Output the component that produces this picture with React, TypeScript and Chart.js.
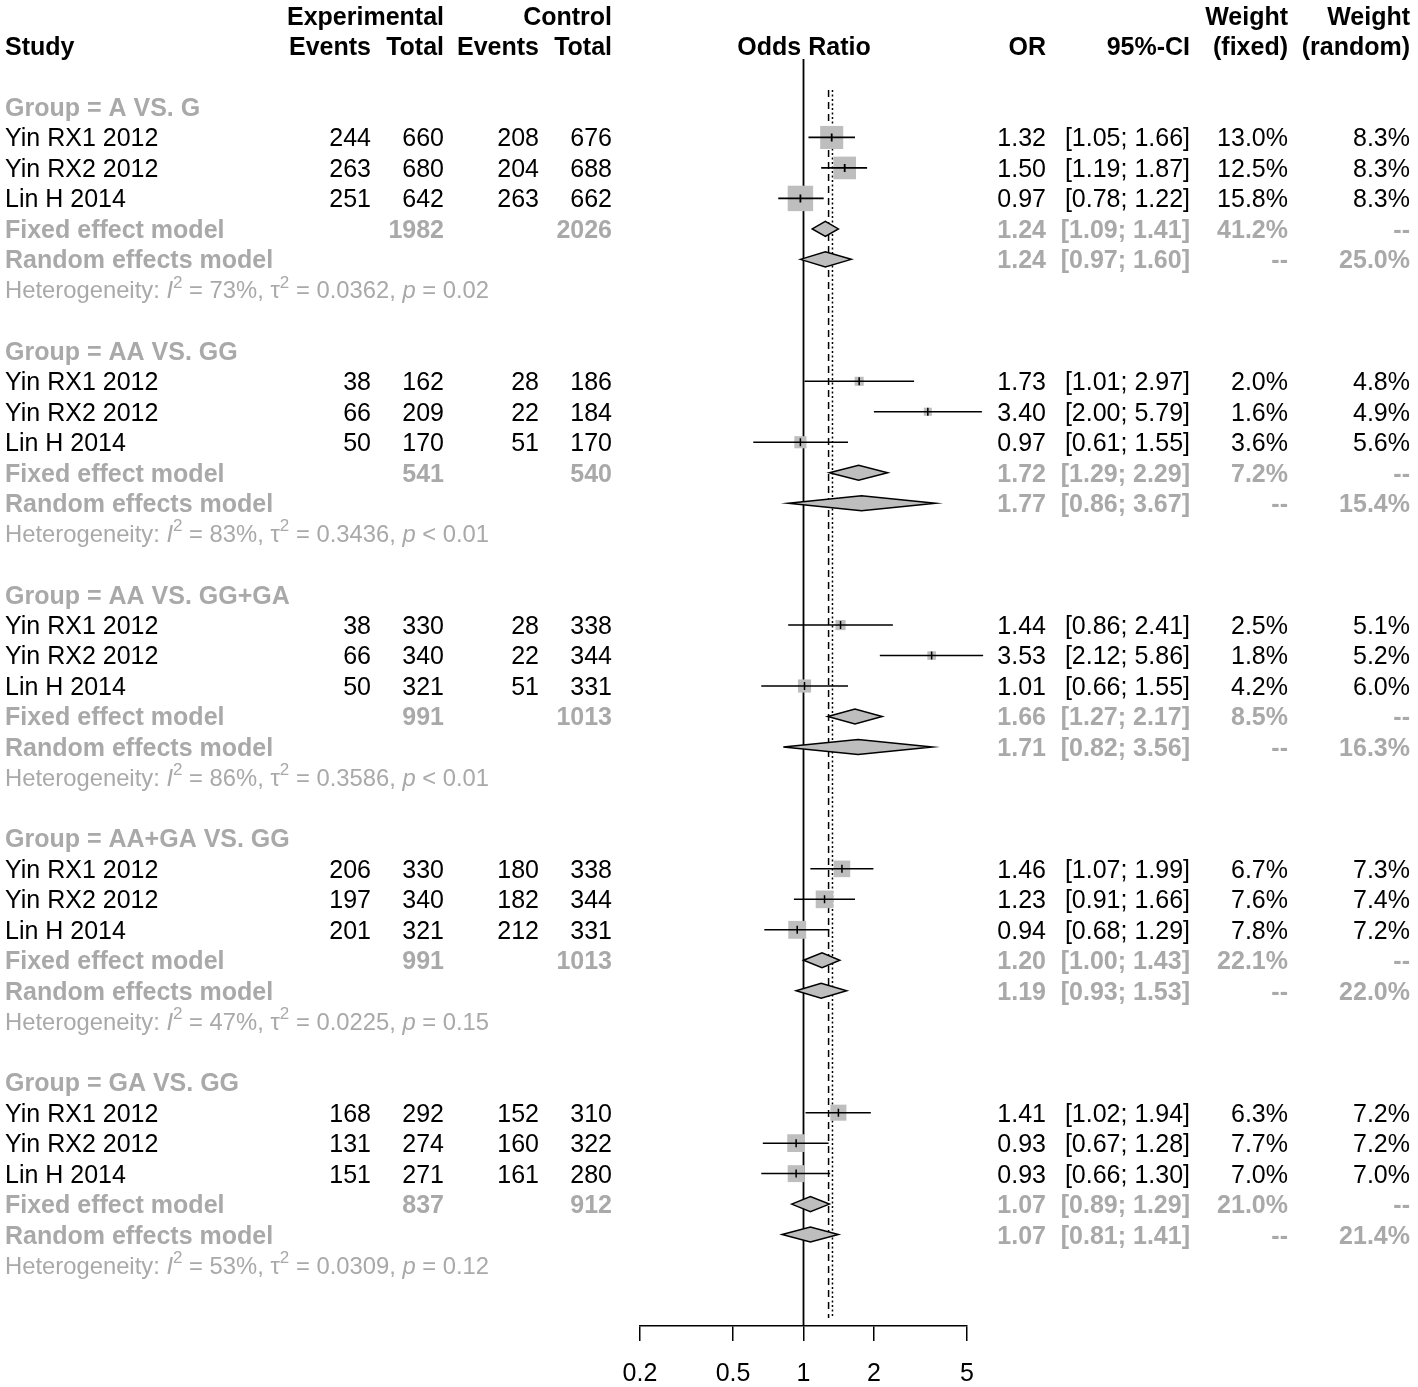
import React, { useEffect, useRef } from "react";
import { Chart, registerables } from "chart.js";

Chart.register(...registerables);

// ---------------- data ----------------
const groupLabels = ["A VS. G", "AA VS. GG", "AA VS. GG+GA", "AA+GA VS. GG", "GA VS. GG"];
const studyNames = ["Yin RX1 2012", "Yin RX2 2012", "Lin H 2014"];

const expEvents = [[244, 263, 251], [38, 66, 50], [38, 66, 50], [206, 197, 201], [168, 131, 151]];
const expTotal = [[660, 680, 642], [162, 209, 170], [330, 340, 321], [330, 340, 321], [292, 274, 271]];
const ctrlEvents = [[208, 204, 263], [28, 22, 51], [28, 22, 51], [180, 182, 212], [152, 160, 161]];
const ctrlTotal = [[676, 688, 662], [186, 184, 170], [338, 344, 331], [338, 344, 331], [310, 322, 280]];

const studyOR = [[1.32, 1.5, 0.97], [1.73, 3.4, 0.97], [1.44, 3.53, 1.01], [1.46, 1.23, 0.94], [1.41, 0.93, 0.93]];
const studyLow = [[1.05, 1.19, 0.78], [1.01, 2.0, 0.61], [0.86, 2.12, 0.66], [1.07, 0.91, 0.68], [1.02, 0.67, 0.66]];
const studyHigh = [[1.66, 1.87, 1.22], [2.97, 5.79, 1.55], [2.41, 5.86, 1.55], [1.99, 1.66, 1.29], [1.94, 1.28, 1.3]];
const weightFixed = [[13.0, 12.5, 15.8], [2.0, 1.6, 3.6], [2.5, 1.8, 4.2], [6.7, 7.6, 7.8], [6.3, 7.7, 7.0]];
const weightRandom = [[8.3, 8.3, 8.3], [4.8, 4.9, 5.6], [5.1, 5.2, 6.0], [7.3, 7.4, 7.2], [7.2, 7.2, 7.0]];

const fixedTotalExp = [1982, 541, 991, 991, 837];
const fixedTotalCtrl = [2026, 540, 1013, 1013, 912];
const fixedOR = [1.24, 1.72, 1.66, 1.2, 1.07];
const fixedLow = [1.09, 1.29, 1.27, 1.0, 0.89];
const fixedHigh = [1.41, 2.29, 2.17, 1.43, 1.29];
const fixedWeight = [41.2, 7.2, 8.5, 22.1, 21.0];

const randomOR = [1.24, 1.77, 1.71, 1.19, 1.07];
const randomLow = [0.97, 0.86, 0.82, 0.93, 0.81];
const randomHigh = [1.6, 3.67, 3.56, 1.53, 1.41];
const randomWeight = [25.0, 15.4, 16.3, 22.0, 21.4];

const hetI2 = [73, 83, 86, 47, 53];
const hetTau2 = ["0.0362", "0.3436", "0.3586", "0.0225", "0.0309"];
const hetP = ["= 0.02", "< 0.01", "< 0.01", "= 0.15", "= 0.12"];

const overallFixedOR = 1.28;
const overallRandomOR = 1.33;

const xTicks = [0.2, 0.5, 1, 2, 5];

// ---------------- layout / style ----------------
const W = 1418;
const H = 1387;
const FONT = '"Liberation Sans", Arial, Helvetica, sans-serif';
const FS = 25;
const HET_FS = 23.8;
const GRAY = "#a9a9a9";
const SQUARE = "#bebebe";
const ROWS_PER_GROUP = 8;

const colStudy = 5;
const colExpEvents = 371;
const colExpTotal = 444;
const colCtrlEvents = 539;
const colCtrlTotal = 612;
const colOddsRatio = 804;
const colOR = 1046;
const colCI = 1190;
const colWF = 1288;
const colWR = 1410;

const refTopRow = -0.56;
const refBottomRow = 39.74;

const fmt2 = (v: number) => v.toFixed(2);
const ci = (lo: number, hi: number) => `[${fmt2(lo)}; ${fmt2(hi)}]`;
const pct = (v: number) => `${v.toFixed(1)}%`;

function squarePoints() {
  const pts: { x: number; y: number }[] = [];
  const radii: number[] = [];
  groupLabels.forEach((_, g) => {
    studyNames.forEach((__, s) => {
      pts.push({ x: studyOR[g][s], y: g * ROWS_PER_GROUP + 1 + s });
      const side = 6.4 * Math.sqrt(weightFixed[g][s]);
      radii.push(side / (2 * Math.SQRT1_2));
    });
  });
  return { pts, radii };
}

const forestPlugin = {
  id: "forestPlugin",
  beforeDatasetsDraw(chart: any) {
    const { ctx, chartArea, scales } = chart;
    const xs = scales.x;
    const ys = scales.y;
    ctx.save();
    ctx.strokeStyle = "#000";
    ctx.lineWidth = 1.8;
    const x1 = xs.getPixelForValue(1);
    ctx.beginPath();
    ctx.moveTo(x1, chartArea.top);
    ctx.lineTo(x1, chartArea.bottom);
    ctx.stroke();
    ctx.lineWidth = 1.5;
    ctx.setLineDash([7, 5]);
    const xf = xs.getPixelForValue(overallFixedOR);
    ctx.beginPath();
    ctx.moveTo(xf, ys.getPixelForValue(refTopRow));
    ctx.lineTo(xf, ys.getPixelForValue(refBottomRow));
    ctx.stroke();
    ctx.setLineDash([2, 2.5]);
    const xr = xs.getPixelForValue(overallRandomOR);
    ctx.beginPath();
    ctx.moveTo(xr, ys.getPixelForValue(refTopRow));
    ctx.lineTo(xr, ys.getPixelForValue(refBottomRow));
    ctx.stroke();
    ctx.restore();
  },
  afterDatasetsDraw(chart: any) {
    const { ctx, scales } = chart;
    const xs = scales.x;
    const ys = scales.y;
    ctx.save();
    ctx.strokeStyle = "#000";
    ctx.lineWidth = 1.8;
    groupLabels.forEach((_, g) => {
      studyNames.forEach((__, s) => {
        const yy = ys.getPixelForValue(g * ROWS_PER_GROUP + 1 + s);
        const xl = xs.getPixelForValue(studyLow[g][s]);
        const xh = xs.getPixelForValue(studyHigh[g][s]);
        const xm = xs.getPixelForValue(studyOR[g][s]);
        ctx.beginPath();
        ctx.moveTo(xl, yy);
        ctx.lineTo(xh, yy);
        ctx.moveTo(xm, yy - 4);
        ctx.lineTo(xm, yy + 4);
        ctx.stroke();
      });
      const diamonds = [
        [fixedOR[g], fixedLow[g], fixedHigh[g], g * ROWS_PER_GROUP + 4],
        [randomOR[g], randomLow[g], randomHigh[g], g * ROWS_PER_GROUP + 5],
      ];
      diamonds.forEach(([m, lo, hi, row]) => {
        const yy = ys.getPixelForValue(row);
        const xm = xs.getPixelForValue(m);
        const xl = xs.getPixelForValue(lo);
        const xh = xs.getPixelForValue(hi);
        ctx.beginPath();
        ctx.moveTo(xl, yy);
        ctx.lineTo(xm, yy - 7.5);
        ctx.lineTo(xh, yy);
        ctx.lineTo(xm, yy + 7.5);
        ctx.closePath();
        ctx.fillStyle = SQUARE;
        ctx.fill();
        ctx.lineWidth = 1.5;
        ctx.stroke();
      });
    });
    ctx.restore();
  },
  afterDraw(chart: any) {
    const { ctx, scales } = chart;
    const ys = scales.y;
    ctx.save();
    const text = (t: string, x: number, row: number, align: CanvasTextAlign, bold: boolean, color: string) => {
      ctx.font = `${bold ? "bold " : ""}${FS}px ${FONT}`;
      ctx.fillStyle = color;
      ctx.textAlign = align;
      ctx.textBaseline = "alphabetic";
      ctx.fillText(t, x, ys.getPixelForValue(row) + 0.358 * FS);
    };
    text("Experimental", colExpTotal, -3, "right", true, "#000");
    text("Control", colCtrlTotal, -3, "right", true, "#000");
    text("Weight", colWF, -3, "right", true, "#000");
    text("Weight", colWR, -3, "right", true, "#000");
    text("Study", colStudy, -2, "left", true, "#000");
    text("Events", colExpEvents, -2, "right", true, "#000");
    text("Total", colExpTotal, -2, "right", true, "#000");
    text("Events", colCtrlEvents, -2, "right", true, "#000");
    text("Total", colCtrlTotal, -2, "right", true, "#000");
    text("Odds Ratio", colOddsRatio, -2, "center", true, "#000");
    text("OR", colOR, -2, "right", true, "#000");
    text("95%-CI", colCI, -2, "right", true, "#000");
    text("(fixed)", colWF, -2, "right", true, "#000");
    text("(random)", colWR, -2, "right", true, "#000");

    groupLabels.forEach((label, g) => {
      const base = g * ROWS_PER_GROUP;
      text(`Group = ${label}`, colStudy, base, "left", true, GRAY);
      studyNames.forEach((name, s) => {
        const r = base + 1 + s;
        text(name, colStudy, r, "left", false, "#000");
        text(String(expEvents[g][s]), colExpEvents, r, "right", false, "#000");
        text(String(expTotal[g][s]), colExpTotal, r, "right", false, "#000");
        text(String(ctrlEvents[g][s]), colCtrlEvents, r, "right", false, "#000");
        text(String(ctrlTotal[g][s]), colCtrlTotal, r, "right", false, "#000");
        text(fmt2(studyOR[g][s]), colOR, r, "right", false, "#000");
        text(ci(studyLow[g][s], studyHigh[g][s]), colCI, r, "right", false, "#000");
        text(pct(weightFixed[g][s]), colWF, r, "right", false, "#000");
        text(pct(weightRandom[g][s]), colWR, r, "right", false, "#000");
      });
      const rf = base + 4;
      text("Fixed effect model", colStudy, rf, "left", true, GRAY);
      text(String(fixedTotalExp[g]), colExpTotal, rf, "right", true, GRAY);
      text(String(fixedTotalCtrl[g]), colCtrlTotal, rf, "right", true, GRAY);
      text(fmt2(fixedOR[g]), colOR, rf, "right", true, GRAY);
      text(ci(fixedLow[g], fixedHigh[g]), colCI, rf, "right", true, GRAY);
      text(pct(fixedWeight[g]), colWF, rf, "right", true, GRAY);
      text("--", colWR, rf, "right", true, GRAY);
      const rr = base + 5;
      text("Random effects model", colStudy, rr, "left", true, GRAY);
      text(fmt2(randomOR[g]), colOR, rr, "right", true, GRAY);
      text(ci(randomLow[g], randomHigh[g]), colCI, rr, "right", true, GRAY);
      text("--", colWF, rr, "right", true, GRAY);
      text(pct(randomWeight[g]), colWR, rr, "right", true, GRAY);

      const rh = base + 6;
      const yb = ys.getPixelForValue(rh) + 0.358 * HET_FS;
      let cx = colStudy;
      ctx.fillStyle = GRAY;
      ctx.textAlign = "left";
      ctx.textBaseline = "alphabetic";
      const piece = (t: string, style: string, size: number, dy: number) => {
        ctx.font = `${style}${size}px ${FONT}`;
        ctx.fillText(t, cx, yb - dy);
        cx += ctx.measureText(t).width;
      };
      const sup = Math.round(HET_FS * 0.7);
      piece("Heterogeneity: ", "", HET_FS, 0);
      piece("I", "italic ", HET_FS, 0);
      piece("2", "", sup, HET_FS * 0.45);
      piece(` = ${hetI2[g]}%, `, "", HET_FS, 0);
      piece("\u03c4", "", HET_FS, 0);
      piece("2", "", sup, HET_FS * 0.45);
      piece(` = ${hetTau2[g]}, `, "", HET_FS, 0);
      piece("p", "italic ", HET_FS, 0);
      piece(` ${hetP[g]}`, "", HET_FS, 0);
    });
    ctx.restore();
  },
};

export default function App() {
  const canvasRef = useRef<HTMLCanvasElement | null>(null);

  useEffect(() => {
    const canvas = canvasRef.current;
    if (!canvas) return;
    const { pts, radii } = squarePoints();
    const chart = new Chart(canvas, {
      type: "scatter",
      data: {
        datasets: [
          {
            data: pts,
            pointStyle: "rect",
            pointRadius: radii,
            pointHoverRadius: radii,
            backgroundColor: SQUARE,
            borderWidth: 0,
            clip: false,
          } as any,
        ],
      },
      options: {
        responsive: false,
        maintainAspectRatio: false,
        devicePixelRatio: 1,
        animation: false,
        events: [],
        layout: { padding: { left: 640, right: W - 967, top: 59, bottom: 0 } },
        plugins: { legend: { display: false }, tooltip: { enabled: false } },
        scales: {
          x: {
            type: "logarithmic",
            position: "bottom",
            min: 0.2,
            max: 5,
            afterBuildTicks: (s: any) => {
              s.ticks = xTicks.map((v) => ({ value: v }));
            },
            afterFit: (s: any) => {
              s.height = 61;
            },
            grid: {
              display: true,
              drawOnChartArea: false,
              drawTicks: true,
              tickLength: 15,
              color: "#000",
              lineWidth: 1.5,
            },
            border: { display: true, color: "#000", width: 1.5 },
            ticks: {
              color: "#000",
              font: { family: FONT, size: FS },
              padding: 18,
              maxRotation: 0,
              autoSkip: false,
              callback: (v: any) => String(v),
            },
          },
          y: {
            type: "linear",
            display: false,
            reverse: true,
            min: -1.575,
            max: 40.0,
          },
        },
      },
      plugins: [forestPlugin],
    });
    return () => chart.destroy();
  }, []);

  return (
    <div style={{ position: "absolute", left: 0, top: 0, width: W, height: H, background: "#fff" }}>
      <canvas ref={canvasRef} width={W} height={H} style={{ display: "block", width: W, height: H }} />
    </div>
  );
}
